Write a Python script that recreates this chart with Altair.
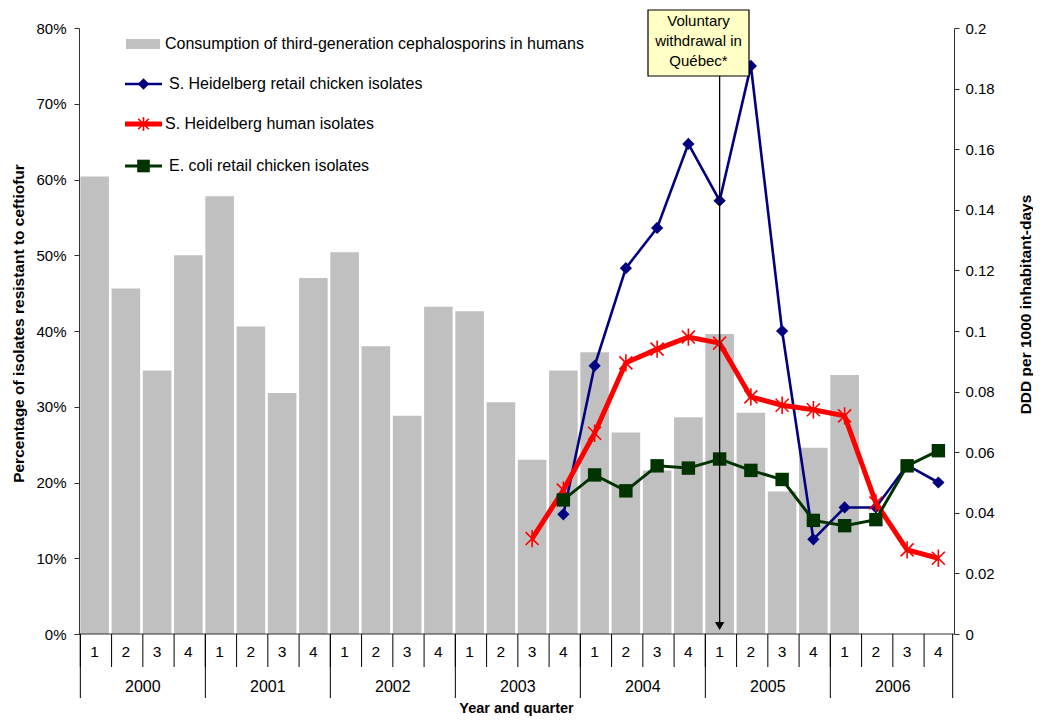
import altair as alt
import pandas as pd

FONT = "Liberation Sans"

years = ["2000", "2001", "2002", "2003", "2004", "2005", "2006"]
quarters = ["1", "2", "3", "4"]
keys = [f"{y}-{q}" for y in years for q in quarters]

# DDD per 1000 inhabitant-days (right axis), 2000Q1 .. 2006Q1
ddd = [0.151, 0.114, 0.087, 0.125,
       0.1445, 0.1015, 0.0795, 0.1175,
       0.126, 0.095, 0.072, 0.108,
       0.1065, 0.0765, 0.0575, 0.087,
       0.093, 0.0665, 0.054, 0.0715,
       0.099, 0.073, 0.047, 0.0615,
       0.0855]

# Percentage resistant (left axis), aligned with keys (None = no data)
heidelberg_chicken = [None] * 15 + [15.8,
                                    35.4, 48.3, 53.6, 64.7,
                                    57.2, 75.0, 40.0, 12.5,
                                    16.7, 16.7, 22.3, 20.0]
heidelberg_human = [None] * 14 + [12.6, 19.0,
                                  26.5, 35.8, 37.6, 39.2,
                                  38.4, 31.3, 30.2, 29.6,
                                  28.8, 17.3, 11.1, 10.0]
ecoli_chicken = [None] * 15 + [17.7,
                               21.0, 18.9, 22.2, 21.9,
                               23.1, 21.6, 20.4, 15.0,
                               14.3, 15.1, 22.2, 24.2]

legend_labels = ["Consumption of third-generation cephalosporins in humans",
                 "S. Heidelberg retail chicken isolates",
                 "S. Heidelberg human isolates",
                 "E. coli retail chicken isolates"]
annotation_lines = ["Voluntary", "withdrawal in", "Québec*"]
annotation_quarter = "2005-1"

GRAY = "#C0C0C0"
BLUE = "#000080"
RED = "#FF0000"
GREEN = "#003300"
AXIS = "#333333"

W, H = 875, 606

x_scale = alt.Scale(domain=keys, paddingInner=0.085, paddingOuter=0.0425)


def X(**kw):
    return alt.X("q:N", scale=x_scale, axis=None, sort=keys, **kw)


bars_df = pd.DataFrame({"q": keys[:len(ddd)], "ddd": ddd})


def series_df(vals):
    return pd.DataFrame([{"q": k, "v": v} for k, v in zip(keys, vals) if v is not None])


bars = alt.Chart(bars_df).mark_bar(color=GRAY).encode(
    x=X(),
    y=alt.Y("ddd:Q",
            scale=alt.Scale(domain=[0, 0.2], nice=False, zero=True),
            axis=alt.Axis(orient="right", values=[i / 100 for i in range(0, 21, 2)],
                          format="~g", grid=False, tickSize=5, labelPadding=6,
                          domainColor=AXIS, tickColor=AXIS,
                          title="DDD per 1000 inhabitant-days",
                          titleAngle=270, titleX=71, titleY=276,
                          titleBaseline="middle", titleAlign="center")),
)

y_left = alt.Y("v:Q",
               scale=alt.Scale(domain=[0, 80], nice=False),
               axis=alt.Axis(orient="left", values=list(range(0, 81, 10)),
                             labelExpr="datum.value + '%'", grid=False, tickSize=5,
                             labelPadding=8, domainColor=AXIS, tickColor=AXIS,
                             title="Percentage of isolates resistant to ceftiofur",
                             titleAngle=270, titleX=-61, titleY=295,
                             titleBaseline="middle", titleAlign="center"))

ASTERISK = "M0,-1L0,1M-0.75,-0.75L0.75,0.75M-0.75,0.75L0.75,-0.75"

b_df = series_df(heidelberg_chicken)
r_df = series_df(heidelberg_human)
g_df = series_df(ecoli_chicken)

blue_line = alt.Chart(b_df).mark_line(color=BLUE, strokeWidth=2.6).encode(x=X(), y=y_left)
blue_pts = alt.Chart(b_df).mark_point(shape="diamond", filled=True, color=BLUE, size=150, opacity=1).encode(x=X(), y=y_left)
red_line = alt.Chart(r_df).mark_line(color=RED, strokeWidth=5).encode(x=X(), y=y_left)
red_pts = alt.Chart(r_df).mark_point(shape=ASTERISK, filled=False, color=RED, size=300, strokeWidth=1.6, opacity=1).encode(x=X(), y=y_left)
green_line = alt.Chart(g_df).mark_line(color=GREEN, strokeWidth=3).encode(x=X(), y=y_left)
green_pts = alt.Chart(g_df).mark_point(shape="square", filled=True, color=GREEN, size=180, opacity=1).encode(x=X(), y=y_left)

lines = alt.layer(blue_line, blue_pts, red_line, red_pts, green_line, green_pts)

# ---- custom category axis ----
q_df = pd.DataFrame({"q": keys, "ql": [k.split("-")[1] for k in keys]})
y_first = pd.DataFrame({"q": [f"{y}-1" for y in years]})
y_mid = pd.DataFrame({"q": [f"{y}-3" for y in years], "yl": years})
last_df = pd.DataFrame({"q": [keys[-1]]})

x_line = alt.Chart(last_df).mark_rule(color=AXIS, strokeWidth=1.2).encode(
    x=alt.value(0), x2=alt.value(W), y=alt.value(H))
q_sep = alt.Chart(q_df).mark_rule(color="black", strokeWidth=1).encode(
    x=X(bandPosition=0), y=alt.value(H), y2=alt.value(H + 33))
y_sep = alt.Chart(y_first).mark_rule(color="black", strokeWidth=1).encode(
    x=X(bandPosition=0), y=alt.value(H), y2=alt.value(H + 64))
end_sep = alt.Chart(last_df).mark_rule(color="black", strokeWidth=1).encode(
    x=X(bandPosition=1), y=alt.value(H), y2=alt.value(H + 64))
q_text = alt.Chart(q_df).mark_text(font=FONT, fontSize=15.5, baseline="middle", color="black").encode(
    x=X(), y=alt.value(H + 18), text="ql:N")
y_text = alt.Chart(y_mid).mark_text(font=FONT, fontSize=16, baseline="middle", color="black").encode(
    x=X(bandPosition=0), y=alt.value(H + 53), text="yl:N")
x_title = alt.Chart(pd.DataFrame({"t": ["Year and quarter"]})).mark_text(
    font=FONT, fontSize=14.5, fontWeight="bold", baseline="middle", color="black").encode(
    x=alt.value(W / 2), y=alt.value(H + 75), text="t:N")

# ---- annotation ----
ann_df = pd.DataFrame({"q": [annotation_quarter]})
arrow = alt.Chart(ann_df).mark_rule(color="black", strokeWidth=1.3).encode(
    x=X(), y=alt.value(48), y2=alt.value(596))
arrow_head = alt.Chart(ann_df).mark_point(shape="triangle-down", filled=True, color="black", size=90, opacity=1).encode(
    x=X(), y=alt.value(598))
box = alt.Chart(ann_df).mark_rect(fill="#FFFFC6", stroke="black", strokeWidth=1.2).encode(
    x=alt.value(569), x2=alt.value(670), y=alt.value(-18), y2=alt.value(48))
ann_text = alt.Chart(pd.DataFrame({"t": annotation_lines, "i": [0, 1, 2]})).mark_text(
    font=FONT, fontSize=15, baseline="middle", align="center", color="black").encode(
    x=alt.value(619.5), y=alt.Y("i:Q", scale=alt.Scale(domain=[0, 2], range=[-7, 33]), axis=None), text="t:N")

# ---- manual legend ----
def one(label):
    return pd.DataFrame({"t": [label]})


LFS = 16
leg = []
leg.append(alt.Chart(one(legend_labels[0])).mark_rect(color=GRAY).encode(
    x=alt.value(47), x2=alt.value(81), y=alt.value(11), y2=alt.value(21)))
leg.append(alt.Chart(one(legend_labels[0])).mark_text(font=FONT, fontSize=LFS, align="left", baseline="middle", color="black").encode(
    x=alt.value(86), y=alt.value(16), text="t:N"))
for lbl, col, sw, yy, tx in [(legend_labels[1], BLUE, 2.6, 56, 90),
                             (legend_labels[2], RED, 5, 96, 86),
                             (legend_labels[3], GREEN, 3, 138, 90)]:
    leg.append(alt.Chart(one(lbl)).mark_rule(color=col, strokeWidth=sw).encode(
        x=alt.value(46), x2=alt.value(83), y=alt.value(yy)))
    leg.append(alt.Chart(one(lbl)).mark_text(font=FONT, fontSize=LFS, align="left", baseline="middle", color="black").encode(
        x=alt.value(tx), y=alt.value(yy), text="t:N"))
leg.append(alt.Chart(one(legend_labels[1])).mark_point(shape="diamond", filled=True, color=BLUE, size=130, opacity=1).encode(
    x=alt.value(64.5), y=alt.value(56)))
leg.append(alt.Chart(one(legend_labels[2])).mark_point(shape=ASTERISK, filled=False, color=RED, size=200, strokeWidth=1.6, opacity=1).encode(
    x=alt.value(64.5), y=alt.value(96)))
leg.append(alt.Chart(one(legend_labels[3])).mark_point(shape="square", filled=True, color=GREEN, size=160, opacity=1).encode(
    x=alt.value(64.5), y=alt.value(138)))

chart = alt.layer(
    bars, lines,
    x_line, q_sep, y_sep, end_sep, q_text, y_text, x_title,
    box, ann_text, arrow, arrow_head,
    *leg
).resolve_scale(y="independent").properties(
    width=W, height=H,
    autosize=alt.AutoSizeParams(type="none"),
    padding={"left": 71, "top": 20, "right": 79, "bottom": 85},
).configure_view(stroke=None).configure_axis(
    labelFont=FONT, labelFontSize=15, labelColor="black",
    titleFont=FONT, titleFontSize=15.5, titleFontWeight="bold", titleColor="black",
)

chart.save("out.html", embed_options={"renderer": "svg", "actions": False})
